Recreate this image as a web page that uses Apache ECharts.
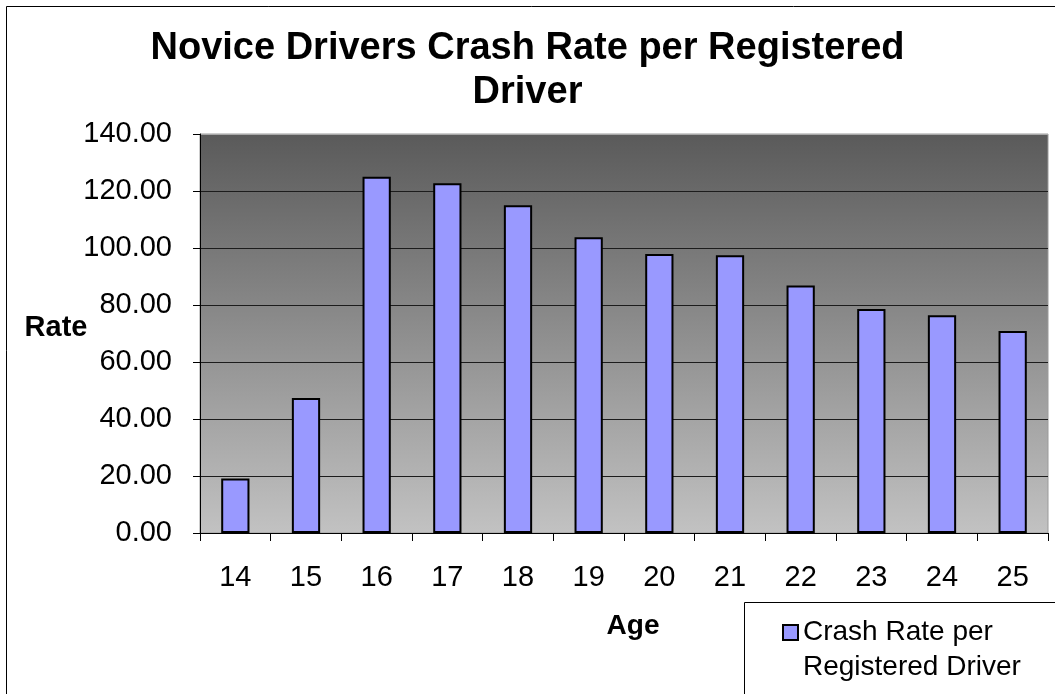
<!DOCTYPE html>
<html>
<head>
<meta charset="utf-8">
<script src="https://cdn.jsdelivr.net/npm/echarts@6/dist/echarts.min.js"></script>
<style>
  html, body { margin: 0; padding: 0; background: #fff; }
  #chart { width: 1055px; height: 694px; }
</style>
</head>
<body>
<div id="chart"></div>
<script>
// data
const ages = ['14', '15', '16', '17', '18', '19', '20', '21', '22', '23', '24', '25']
const crashRate = [19.1, 47.4, 125.0, 122.7, 115.0, 103.8, 97.9, 97.5, 86.8, 78.6, 76.4, 70.9]
const seriesName = 'Crash Rate per Registered Driver'

const font = '"Liberation Sans", Arial, sans-serif'

// gridlines are dark, except the top one which blends into the light plot frame
const gridLineColors = ['#1c1c1c', '#1c1c1c', '#1c1c1c', '#1c1c1c', '#1c1c1c', '#1c1c1c', '#1c1c1c', '#a8a8a8']

const chart = echarts.init(document.getElementById('chart'))

chart.setOption({
  animation: false,
  textStyle: { fontFamily: font },
  title: {
    text: 'Novice Drivers Crash Rate per Registered\nDriver',
    left: 'center',
    top: 27,
    padding: [0, 0, 0, 8],
    textStyle: { fontFamily: font, fontSize: 38, fontWeight: 'bold', color: '#000', lineHeight: 44 }
  },
  graphic: [
    // outer chart border (only left/top edges are inside the picture)
    { type: 'rect', z: 0, shape: { x: 6.5, y: 6.5, width: 1200, height: 900 },
      style: { fill: 'none', stroke: '#000', lineWidth: 1 } },
    // legend frame
    { type: 'rect', z: 0, shape: { x: 744.5, y: 602.5, width: 400, height: 200 },
      style: { fill: '#fff', stroke: '#000', lineWidth: 1 } }
  ],
  legend: {
    z: 10,
    left: 782,
    top: 580,
    padding: 0,
    itemWidth: 15,
    itemHeight: 15,
    itemGap: 4,
    icon: 'rect',
    // leading blank line keeps the marker beside the first text line
    formatter: '\nCrash Rate per\nRegistered Driver',
    textStyle: { fontFamily: font, fontSize: 28, color: '#000', lineHeight: 35 }
  },
  grid: {
    left: 200, right: 7, top: 134, bottom: 161,
    show: true,
    borderColor: '#9a9a9a',
    borderWidth: 1,
    backgroundColor: new echarts.graphic.LinearGradient(0, 0, 0, 1, [
      { offset: 0, color: '#5a5a5a' },
      { offset: 1, color: '#c2c2c2' }
    ])
  },
  xAxis: {
    type: 'category',
    data: ages,
    name: 'Age',
    nameLocation: 'middle',
    nameGap: 79,
    nameMoveOverlap: false,
    nameTextStyle: { fontFamily: font, fontSize: 28, fontWeight: 'bold', color: '#000', padding: [0, 0, 0, 18] },
    axisLine: { lineStyle: { color: '#000', width: 1 } },
    axisTick: { show: true, length: 8, alignWithLabel: false, lineStyle: { color: '#000' } },
    axisLabel: { fontFamily: font, fontSize: 29, color: '#000', margin: 30 },
    splitLine: { show: false }
  },
  yAxis: {
    type: 'value',
    min: 0,
    max: 140,
    interval: 20,
    name: 'Rate',
    nameLocation: 'middle',
    nameRotate: 0,
    nameGap: 144,
    nameMoveOverlap: false,
    nameTextStyle: { fontFamily: font, fontSize: 29, fontWeight: 'bold', color: '#000', align: 'center', verticalAlign: 'bottom', lineHeight: 12 },
    axisLine: { show: true, lineStyle: { color: '#000', width: 1 } },
    axisTick: { show: true, length: 7, lineStyle: { color: '#000' } },
    axisLabel: { fontFamily: font, fontSize: 29, color: '#000', margin: 28, formatter: v => v.toFixed(2) },
    splitLine: { show: true, lineStyle: { color: gridLineColors, width: 1 } }
  },
  series: [{
    name: seriesName,
    type: 'bar',
    data: crashRate,
    barWidth: '40%',
    itemStyle: { color: '#9999ff', borderColor: '#000', borderWidth: 2 }
  }]
})
</script>
</body>
</html>
